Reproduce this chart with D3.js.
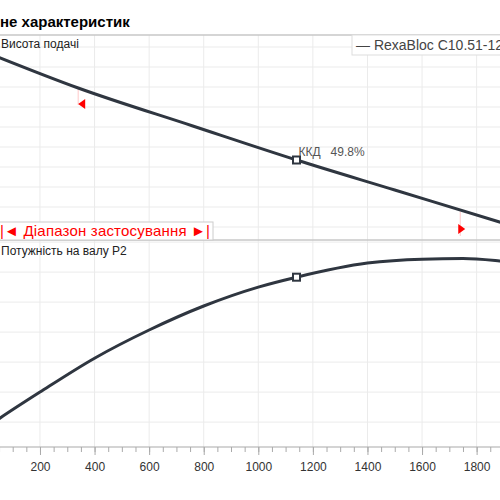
<!DOCTYPE html>
<html>
<head>
<meta charset="utf-8">
<script src="https://d3js.org/d3.v7.min.js"></script>
<style>
body { margin: 0; }
text { font-family: "Liberation Sans", Arial, sans-serif; }
</style>
</head>
<body>
<script>
var width = 500, height = 500;

// flow values and the two curves (units)
var headFlow = [0, 340, 760, 1140, 1500, 1884, 2000];
var head = [8.75, 6.95, 5.05, 3.35, 1.85, 0.25, -0.25];
var powerFlow = [0, 53, 200, 400, 600, 800, 1000, 1140, 1400, 1600, 1750, 1884, 2000];
var power = [-0.2, 0.13, 1.0, 2.13, 3.07, 3.87, 4.5, 4.83, 5.3, 5.43, 5.45, 5.37, 5.25];
var xTicks = [200, 400, 600, 800, 1000, 1200, 1400, 1600, 1800];
var dutyQ = 1140, rangeMin = 340, rangeMax = 1740;

var svg = d3.select("body").append("svg")
  .attr("width", width).attr("height", height);

var x = d3.scaleLinear().domain([0, 2000]).range([-14.6, 531.2]);
var yH = d3.scaleLinear().domain([-0.65, 9.6]).range([240, 35]);
var yP = d3.scaleLinear().domain([-0.83, 6.07]).range([447, 240]);

svg.append("text").attr("x", 0).attr("y", 27)
  .attr("font-size", 15).attr("font-weight", "bold").text("не характеристик");

function grid(y, ticks, top, bottom) {
  var g = svg.append("g");
  g.selectAll(".h").data(ticks).enter().append("line")
    .attr("x1", 0).attr("x2", width)
    .attr("y1", d => y(d)).attr("y2", d => y(d))
    .attr("stroke", "#ebebeb");
  g.selectAll(".v").data(xTicks).enter().append("line")
    .attr("x1", d => x(d)).attr("x2", d => x(d))
    .attr("y1", top).attr("y2", bottom)
    .attr("stroke", "#ebebeb");
}
grid(yH, d3.range(0, 10), 35, 240);
grid(yP, d3.range(0, 7), 240, 447);

svg.append("rect").attr("x", -2).attr("y", 35).attr("width", 504).attr("height", 205)
  .attr("fill", "none").attr("stroke", "#c8c8c8").attr("stroke-width", 1.5);
svg.append("line").attr("x1", 0).attr("x2", width).attr("y1", 447).attr("y2", 447)
  .attr("stroke", "#aaa").attr("stroke-width", 1.2);

// x axis
var ax = svg.append("g").attr("transform", "translate(0,447)")
  .call(d3.axisBottom(x).tickValues(d3.range(0, 2001, 50)).tickSize(5).tickFormat(""));
ax.select(".domain").remove();
ax.selectAll("line").attr("stroke", "#aaa");
var ax2 = svg.append("g").attr("transform", "translate(0,447)")
  .call(d3.axisBottom(x).tickValues(xTicks).tickSize(8).tickPadding(7).tickFormat(d3.format("d")));
ax2.select(".domain").remove();
ax2.selectAll("line").attr("stroke", "#aaa");
ax2.selectAll("text").attr("font-size", 12).attr("fill", "#333")
  .style("font-family", "Liberation Sans, Arial, sans-serif");

// application range markers
[[rangeMin, 88, 105, "left"], [rangeMax, 212, 236, "right"]].forEach(function (m) {
  var px = x(m[0]);
  svg.append("line").attr("x1", px).attr("x2", px).attr("y1", m[1]).attr("y2", m[2])
    .attr("stroke", "#ffc8c8");
  var ty = m[3] == "left" ? 104 : 229;
  var pts = m[3] == "left"
    ? [[px, ty], [px + 7, ty - 5], [px + 7, ty + 5]]
    : [[px - 2, ty - 5], [px + 5, ty], [px - 2, ty + 5]];
  svg.append("path").attr("d", "M" + pts.join("L") + "Z").attr("fill", "red");
});

var line = function (y, fl, vals) {
  return d3.line().x((d, i) => x(fl[i])).y(d => y(d)).curve(d3.curveMonotoneX)(vals);
};
svg.append("path").attr("d", line(yH, headFlow, head)).attr("fill", "none")
  .attr("stroke", "#2f3640").attr("stroke-width", 3);
svg.append("path").attr("d", line(yP, powerFlow, power)).attr("fill", "none")
  .attr("stroke", "#2f3640").attr("stroke-width", 3);

function interp(fl, vals, q) { return d3.scaleLinear().domain(fl).range(vals)(q); }
[[yH, headFlow, head], [yP, powerFlow, power]].forEach(function (s) {
  svg.append("rect").attr("x", x(dutyQ) - 3.5).attr("y", s[0](interp(s[1], s[2], dutyQ)) - 3.5)
    .attr("width", 7).attr("height", 7).attr("fill", "white")
    .attr("stroke", "#2f3640").attr("stroke-width", 2);
});
svg.append("text").attr("x", x(dutyQ) + 2).attr("y", 156).attr("font-size", 12)
  .attr("fill", "#555").attr("xml:space", "preserve").text("ККД   49.8%");

// labels
svg.append("text").attr("x", 1).attr("y", 48).attr("font-size", 12).attr("fill", "#222")
  .text("Висота подачі");
svg.append("text").attr("x", 1).attr("y", 255).attr("font-size", 12).attr("fill", "#222")
  .text("Потужність на валу  P2");

// legend
svg.append("rect").attr("x", 352).attr("y", 35).attr("width", 160).attr("height", 20)
  .attr("fill", "white").attr("stroke", "#ddd");
svg.append("text").attr("x", 356).attr("y", 50).attr("font-size", 14).attr("fill", "#444")
  .text("— RexaBloc C10.51-125");

// range box
svg.append("rect").attr("x", -2).attr("y", 222).attr("width", 215).attr("height", 18)
  .attr("fill", "white").attr("stroke", "#ccc");
svg.append("text").attr("x", 0).attr("y", 236).attr("font-size", 15).attr("fill", "red")
  .attr("textLength", 210).text("|◄ Діапазон застосування ►|");
</script>
</body>
</html>
